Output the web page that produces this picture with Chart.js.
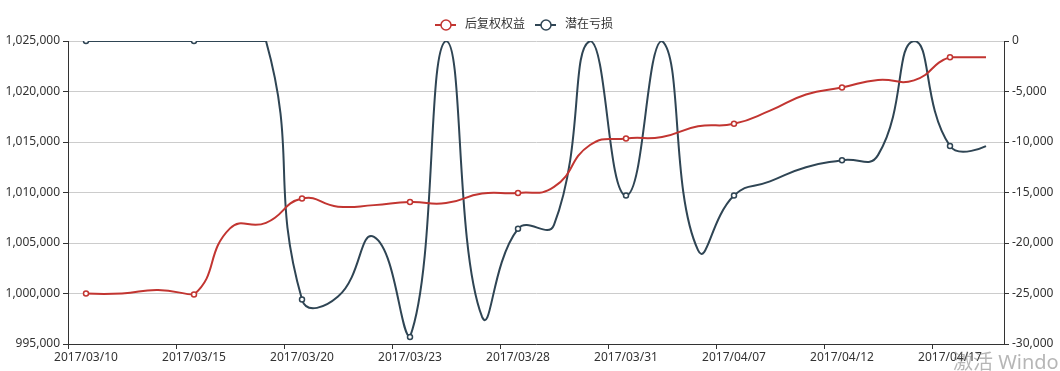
<!DOCTYPE html>
<html>
<head>
<meta charset="utf-8">
<script src="https://cdn.jsdelivr.net/npm/chart.js@4.4.0/dist/chart.umd.min.js"></script>
<style>
    body { margin: 0; background: #fff; }
    #wrap { position: relative; width: 1060px; height: 371px; overflow: hidden; }
    #mark {
        position: absolute; left: 953px; top: 346px; white-space: nowrap;
        font: 20px 'Noto Sans', 'Noto Sans CJK SC', sans-serif; color: rgba(110, 110, 110, 0.5);
    }
</style>
</head>
<body>
<div id="wrap">
    <canvas id="chart" width="1060" height="371"></canvas>
    <div id="mark">激活 Windo</div>
</div>
<script>
const labels = [
    '2017/03/10', '2017/03/13', '2017/03/14', '2017/03/15', '2017/03/16', '2017/03/17',
    '2017/03/20', '2017/03/21', '2017/03/22', '2017/03/23', '2017/03/24', '2017/03/27',
    '2017/03/28', '2017/03/29', '2017/03/30', '2017/03/31', '2017/04/05', '2017/04/06',
    '2017/04/07', '2017/04/10', '2017/04/11', '2017/04/12', '2017/04/13', '2017/04/14',
    '2017/04/17', '2017/04/18'
];

// 后复权权益 (left axis)
const equity = [
    1000000, 1000000, 1000350, 999900, 1006450, 1007000,
    1009400, 1008600, 1008750, 1009050, 1008950, 1009900,
    1009960, 1010550, 1014700, 1015350, 1015500, 1016550,
    1016800, 1018100, 1019700, 1020400, 1021150, 1021100,
    1023400, 1023400
];

// 潜在亏损 (right axis)
const loss = [
    0, 0, 0, 0, 0, 0,
    -25600, -25300, -19400, -29300, 0, -27300,
    -18600, -18200, 0, -15300, 0, -20700,
    -15300, -13900, -12500, -11800, -11300, 0,
    -10400, -10400
];

const seriesNames = ['后复权权益', '潜在亏损'];
const seriesColors = ['#c23531', '#2f4554'];

const FONT = "'Noto Sans', 'Noto Sans CJK SC', sans-serif";
const fmt = v => v.toLocaleString('en-US');

// symbols only where the category label is shown
const symbolRadius = ctx => ctx.dataIndex % 3 === 0 ? 2.5 : 0;

function lineDataset(name, data, color, axis) {
    return {
        label: name,
        data: data,
        yAxisID: axis,
        borderColor: color,
        backgroundColor: '#fff',
        borderWidth: 2,
        tension: 0.5,
        fill: false,
        pointRadius: symbolRadius,
        pointHoverRadius: symbolRadius,
        pointBorderWidth: 1.5,
        pointBackgroundColor: '#fff',
        pointBorderColor: color
    };
}

const clamp = (v, lo, hi) => Math.min(hi, Math.max(lo, v));

// keep the bezier control points inside the data's bounding box
// and flat at both ends, so the curve doesn't overshoot its extremes
const smoothConstraintPlugin = {
    id: 'smoothConstraint',
    beforeDatasetDraw(chart, args) {
        const meta = args.meta;
        const line = meta.dataset;
        const pts = meta.data;
        if (!line || pts.length < 2) return;
        line.updateControlPoints(chart.chartArea, 'x');

        const xs = pts.map(p => p.x);
        const ys = pts.map(p => p.y);
        const minX = Math.min(...xs), maxX = Math.max(...xs);
        const minY = Math.min(...ys), maxY = Math.max(...ys);
        pts.forEach(p => {
            p.cp1x = clamp(p.cp1x, minX, maxX);
            p.cp2x = clamp(p.cp2x, minX, maxX);
            p.cp1y = clamp(p.cp1y, minY, maxY);
            p.cp2y = clamp(p.cp2y, minY, maxY);
        });
        const first = pts[0];
        const last = pts[pts.length - 1];
        first.cp2x = first.x; first.cp2y = first.y;
        last.cp1x = last.x; last.cp1y = last.y;
    }
};

// echarts-style legend: short line with a hollow circle
const legendPlugin = {
    id: 'lineLegend',
    afterDraw(chart) {
        const ctx = chart.ctx;
        ctx.save();
        ctx.font = '12px ' + FONT;
        ctx.textBaseline = 'middle';
        let x = 435;
        const y = 25;
        seriesNames.forEach((name, i) => {
            ctx.strokeStyle = seriesColors[i];
            ctx.lineWidth = 2;
            ctx.beginPath();
            ctx.moveTo(x, y);
            ctx.lineTo(x + 21, y);
            ctx.stroke();
            ctx.beginPath();
            ctx.arc(x + 11, y, 5, 0, Math.PI * 2);
            ctx.fillStyle = '#fff';
            ctx.fill();
            ctx.lineWidth = 1.5;
            ctx.stroke();
            ctx.fillStyle = '#333';
            ctx.fillText(name, x + 30, y);
            x += 30 + ctx.measureText(name).width + 10;
        });
        ctx.restore();
    }
};

const config = {
    type: 'line',
    data: {
        labels: labels,
        datasets: [
            lineDataset(seriesNames[0], equity, seriesColors[0], 'y'),
            lineDataset(seriesNames[1], loss, seriesColors[1], 'y1')
        ]
    },
    options: {
        responsive: false,
        animation: false,
        layout: { padding: { top: 41, left: 0, right: 0, bottom: 0 } },
        plugins: {
            legend: { display: false },
            tooltip: { enabled: false }
        },
        scales: {
            x: {
                offset: true,
                afterFit: s => { s.height = 27; },
                grid: {
                    offset: true,
                    drawOnChartArea: false,
                    tickLength: 5,
                    tickColor: ctx => ctx.index % 3 === 0 ? '#333' : 'rgba(0,0,0,0)'
                },
                border: { color: '#333' },
                ticks: {
                    autoSkip: false,
                    maxRotation: 0,
                    padding: 1,
                    color: '#333',
                    font: { family: FONT, size: 12 },
                    callback: (v, i) => i % 3 === 0 ? labels[i] : ''
                }
            },
            y: {
                position: 'left',
                min: 995000,
                max: 1025000,
                afterFit: s => { s.width = 68; },
                grid: { color: '#ccc', tickColor: '#333', tickLength: 5 },
                border: { color: '#333' },
                ticks: {
                    stepSize: 5000,
                    padding: 3,
                    color: '#333',
                    font: { family: FONT, size: 12 },
                    callback: v => fmt(v)
                }
            },
            y1: {
                position: 'right',
                min: -30000,
                max: 0,
                afterFit: s => { s.width = 56; },
                grid: { drawOnChartArea: false, tickColor: '#333', tickLength: 5 },
                border: { color: '#333' },
                ticks: {
                    stepSize: 5000,
                    padding: 3,
                    color: '#333',
                    font: { family: FONT, size: 12 },
                    callback: v => fmt(v)
                }
            }
        }
    },
    plugins: [smoothConstraintPlugin, legendPlugin]
};

new Chart(document.getElementById('chart'), config);
</script>
</body>
</html>
